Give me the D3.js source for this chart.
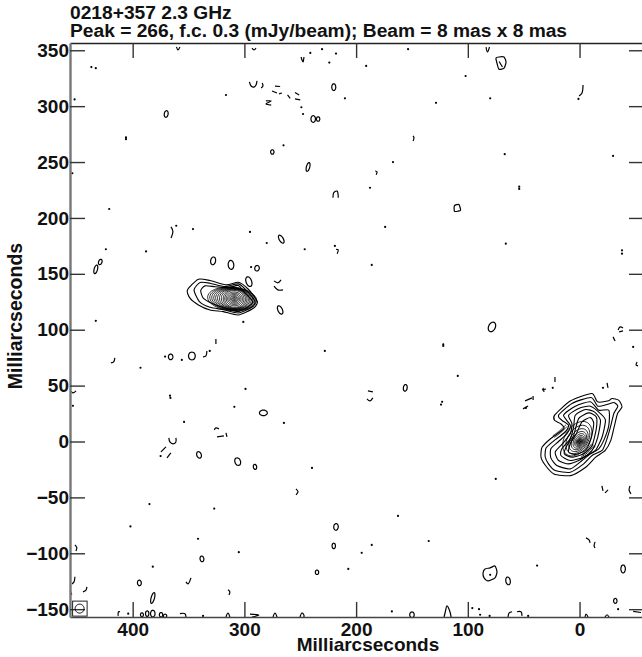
<!DOCTYPE html>
<html><head><meta charset="utf-8">
<script src="https://cdn.jsdelivr.net/npm/d3@7"></script>
<style>html,body{margin:0;padding:0;background:#fff}svg{display:block}text{font-family:"Liberation Sans",Arial,sans-serif;font-weight:bold;fill:#111}</style>
</head><body><svg id="c" width="642" height="657"></svg>
<script>
const xDomain=[456.1,-55.9], yDomain=[-157,356.5];
const xTicks=[400,300,200,100,0], yTicks=[350,300,250,200,150,100,50,0,-50,-100,-150];
const titleLines=["0218+357 2.3 GHz","Peak = 266, f.c. 0.3 (mJy/beam); Beam = 8 mas x 8 mas"];
const axisLabel="Milliarcseconds";

// isolated one-pixel noise peaks [mas, mas]
const specks=[[230.5,351],[218,347],[224,339],[191,336],[102,327],[210,307],[128.5,303],[80,307],[1,306.5],[67,257],[-30,255.5],[153.5,351],[249,299],[247.5,293],[265,265],[316.5,310],[452,306],[437,335],[433,334],[406,272],[406,270.5],[241,347.6],[454,240],[421,208],[361,193],[346,190],[295,187.5],[280,177.6],[246,172],[424,172],[388,170],[294,156],[433,108],[301,107],[331,81],[356,73],[371,76],[393,66],[299,47],[366.6,41],[366.2,39],[309,31],[453.5,32],[264.6,16.6],[354,17.5],[375,-13],[239.5,-23.6],[385,-56],[327,-60],[402,-76],[341.5,-87],[305,-99],[382,-112],[404,-154],[337,-156],[186,-92.5],[195,-99.6],[207,-114],[135,-89],[38,-111],[-34.5,-150],[96,-149],[90,-150],[168,-152],[46,-156],[167,250],[187.6,227],[54,228],[54,226],[174,192],[66,177],[-38,171],[-38,168],[219,175],[186,158],[122,87],[122,85.5],[228,81],[109,58.7],[123,35.5],[124,33],[-48,84.6],[75,-33.5],[162.5,-66.6],[-21,48],[24,48],[48,30],[80,-119.3],[89,-155],[80.5,-156]];

// small closed contours: centre x, centre y, half-width, half-height, tilt
const rings=[[370,293,1.7,3,10],[220,317,1.8,3,0],[275,259,1.5,2,0],[243,245.6,1.5,4,15],[238.4,288.5,2,3,0],[234,288.5,1.5,2,0],[267,181,1.8,4,-30],[328,161.6,2.2,3.5,10],[312,158,2.5,4,-5],[288.7,155,2,2.5,10],[429,160.6,1.5,2.5,20],[433,154,1.5,4,15],[347,76.5,3,3.5,0],[366,75.7,2,2.5,0],[283,25.6,3.5,2.5,0],[340.6,-12,2,3,-20],[306,-18,2.5,3.5,-20],[290.5,-22.7,1.5,2.2,-10],[338,-105,1.7,2.5,-10],[394,-126.5,1.7,2.5,-5],[382,-140,1.5,5,15],[235,-117,1.5,2,0],[382,-154,2,3,0],[150,-155,2,2.5,0],[64,-124.7,2,3.5,-10],[-39,-114,2,3.5,0],[218,-76.4,2,3,5],[220,-93.4,1.5,2.5,0],[78.4,102.5,3,4.5,25],[156,48,1.7,3,8],[296,143,2.5,4.5,-20],[268,117.7,2,4,-25],[-32,-142.6,1.5,2.2,0],[374.6,-155,1.5,2,0],[371,-156,1.5,1.5,0],[391.7,-155,1.3,1.8,0],[387,-154,1.5,2.5,0]];

// open fragments of contours cut by the noise
const arcs=[
[[295.5,321.7],[294,318],[291.5,317],[289.6,319],[288.7,322.6]],[[284,320.8],[283.4,318],[285,316.3]],[[272.6,318],[268,317.6]],[[275.3,313.6],[270.8,311.8]],[[269,311],[266.4,311.8]],[[261.4,310],[259,307]],[[254.7,312.3],[251,310]],[[254.7,306.5],[250,305.6]],[[280.7,304.7],[276,304.7],[280.7,302],[276,301]],
[[365.7,192],[364,188],[365.7,182]],[[220.7,218],[220,222.6],[217,224],[216,218]],[[183,242],[181.3,241.3],[182,238.7]],[[218,172],[216,171.4],[217,168]],[[273.5,143.7],[270,142],[267.2,144.6]],[[273.5,139],[270,135.6],[265.5,135.6]],[[416,74.8],[417,71.2],[419.5,70.3]],[[333.6,81],[334.4,76.6],[337,75.7]],[[325.5,91.8],[325.5,87.3]],[[455,45],[453.5,43.5],[450.7,45.3]],[[327,10.4],[325.5,12.2],[322.8,11.3]],[[324.5,4.1],[318.3,5]],[[316.5,7.7],[315.6,4.1]],[[367.6,3.2],[366.7,-0.4],[364,-2.1],[361.3,-0.4],[361.3,3.2]],[[374.7,-9.3],[370.2,-4.8]],[[369.3,-14.7],[365.8,-10.2]],[[253.8,-42.4],[252,-45],[253.8,-47.8]],[[451.7,-92.5],[450,-95],[450.8,-97.9]],[[451.7,-121],[452.5,-125.6],[454.3,-127.4]],[[441,-130],[441.8,-133],[444.5,-134.5]],[[456,-133.6],[454.5,-137]],[[352.3,-125.6],[350.5,-127.4],[347.8,-122]],[[314.7,-132.7],[313,-134.5],[313.8,-137.2]],
[[413,-156],[412.7,-152.3],[411.3,-152.3]],[[357.7,-154],[353.2,-154],[352.3,-157]],[[316.5,-157],[314.7,-153.4],[313,-157]],[[295,-154.4],[287,-155.3],[293.3,-157]],[[274.4,-157],[272.6,-153.4],[270.8,-157]],[[250.2,-157],[248.5,-153.4],[246.7,-155.3],[246.7,-157]],[[121.3,-157],[120.4,-153.4],[118.6,-147],[116,-152.3],[115,-157]],[[64,-157],[63,-153.4],[60.4,-152.3]],[[56,-152.3],[52.4,-152.3],[51.5,-156]],[[-4.9,-157],[-5.8,-154.3],[-7.6,-157]],[[-22.8,-157],[-24.6,-155],[-26.4,-157]],[[-48,-152],[-55,-153]],
[[-5.8,-86.2],[-8.5,-88],[-9.4,-90.7]],[[-13.9,-89.8],[-13,-93.4],[-13.9,-95.2]],[[-20,-39.7],[-21,-44.2]],[[-22.8,-46],[-25.5,-43.3]],[[-45.2,-39.7],[-44.3,-43.3],[-46,-46.9]],
[[48.8,36.3],[42.5,39]],[[41.6,40.8],[41.6,37.2]],[[50.6,29.2],[46.1,31.8]],[[33.6,46.2],[30,47]],[[32.7,48],[31.8,44.4]],[[22,57.8],[22,53.3]],[[-24.6,52.4],[-25.5,48]],[[-30,93.6],[-31.8,90]],[[-34.5,99.8],[-36.3,102.5],[-38.9,101.6]],[[-35.4,98],[-38.9,98.9]],[[-51.5,71.2],[-50.6,68.5],[-52.4,67.6]],[[189.4,45.3],[185,44.4]],[[190.3,38.1],[187.6,36.3],[185,39]],[[-3.1,318.9],[-2.2,311.8],[0.4,309.1]],[[149,273.4],[148.2,271.6],[149,268.9]],[[83.7,352.9],[82.4,348.5],[80.6,352.9]],[[360.8,353],[359.5,350.3],[357.7,353]],[[293.2,352],[291.4,350.3],[289.6,352]],[[249.3,344],[247.5,339.5],[246.7,344]],[[72,340],[69,335]]];

// larger irregular closed contours of isolated blobs
const blobs=[
[[86.4,-117.6],[84.6,-114],[80.1,-113.1],[75.7,-111.3],[73.9,-116.7],[75.7,-122],[81.9,-124.7],[85.5,-122]],
[[74.8,343],[72.1,344],[67.6,344],[65.8,339.5],[67.6,334],[72.1,333],[73.9,338.4]],
[[112,206],[112,211],[108,212],[106.5,207],[109,206]]];

// core component, irregular outer contours (mas)
const coreOuter=[
[[22,24],[8,36.4],[-11,43],[-16,35.5],[-26,36.4],[-29,38.5],[-35,37],[-38,31],[-34,25],[-31,13],[-28,1],[-23,-8],[-14.5,-14],[-5.5,-23],[8,-30.5],[23,-29],[30.5,-21.5],[34.5,-14],[33.5,-5],[26,2.5],[14,11.5],[17,16],[22.5,19]],
[[18.8,23.5],[6.8,34],[-10.3,39.4],[-16.3,31.6],[-25.3,33.4],[-30.7,34.9],[-34.3,31.6],[-30.7,25],[-27.7,13],[-24.1,1],[-20.2,-8],[-11.2,-12.5],[-3.7,-20],[8.3,-27.5],[21.8,-26],[27.8,-20],[30.8,-13.4],[29.9,-5.6],[23.3,.4],[12.8,8.5],[9.8,14.5],[15.8,19]],
[[14.3,23.5],[3.8,31.6],[-9.7,35.5],[-17.2,28],[-26.2,28],[-26.2,14.5],[-21.7,1],[-17.2,-6.5],[-9.7,-11],[-2.2,-17],[8.3,-24.5],[20.3,-21.5],[25.7,-14.6],[25.7,-6.5],[18.8,0],[11.3,7],[8.3,14.5]],
[[9.8,23.5],[.8,29.5],[-9.7,31.6],[-18.7,25],[-23.2,19],[-20.2,4],[-14.2,-8],[-6.7,-12.5],[.8,-17],[9.8,-20],[18.8,-17],[21.8,-9.5],[15.8,-2.6],[8.3,7],[6.8,16]],
[[3.8,23.5],[-5.2,28.6],[-13.3,26.5],[-18.7,19],[-16.3,4],[-11.2,-8],[-3.7,-14],[8.3,-17],[16.7,-12.5],[15.8,-6.5],[8.3,2.5],[5.3,13]],
[[.8,20.5],[-8.2,25.6],[-15,22],[-15,11.5],[-11.2,-3.5],[-3.7,-11],[6.8,-14],[13.7,-11],[11.3,-3.5],[5.3,5.5]],
[[-2.2,17.5],[-9.7,21.4],[-12.7,16],[-10.3,2.5],[-5.2,-8],[3.8,-11.6],[9.8,-9.5],[8.3,-2],[2.9,7]]];
// short bunched segments where the core contours crowd together
const coreBunch=[
[[-1,-15],[-6,-12.5],[-10,-9],[-14,-4]],[[-1.5,-13.6],[-5.4,-11.4],[-9.2,-8],[-13,-3.4]],[[-2,-12.2],[-5,-10.2],[-8.5,-7],[-12,-2.8]],[[-2.6,-11],[-5,-9],[-7.8,-6],[-10.8,-2]],
[[24,5],[18,9.5],[12,15]],[[22.6,3.6],[16.8,8],[11,13.6]],[[21,2],[15.4,6.4],[9.8,12]]];
// core, nested ellipses: centre x, centre y, half-width, half-height, tilt
const coreInner=[[2,2.5,11,17,33],[1.5,1.8,9,14,33],[1,1.2,7.3,11.3,33],[.6,.8,5.8,9,33],[.3,.5,4.6,7.2,33],[.1,.3,3.6,5.6,33],[0,.1,2.8,4.4,33],[0,0,2.2,3.4,33],[0,0,1.7,2.6,33],[0,0,1.3,2,33],[0,0,1,1.5,33],[0,0,.7,1,33],[0,0,.4,.6,33]];

// second component, irregular outer contours (mas)
const jetOuter=[
[[351,135.6],[341.2,145.2],[330.8,144],[315.9,140.1],[305.4,142.5],[296.5,136.2],[288.4,125.2],[292,119.2],[305.4,113.2],[318.9,116.2],[330.8,117.7],[341.2,122.2],[348.7,128.2]],
[[345.1,135.6],[339.7,142.2],[330.8,141.6],[317.4,138.6],[305.4,141],[298,135],[290.5,125.2],[293.5,120.1],[305.4,115],[318.9,118],[330.8,120.1],[340.3,125.2]],
[[339.1,135],[335.3,139.2],[326.3,138.5],[314.4,137.5],[305.4,139.6],[299.5,133],[292.6,125.2],[295.6,121.3],[305.4,116.2],[317.4,119.4],[329.3,123.7],[336.8,128.2]]];
const jetInner=[[311,127.6,22,10.6,5],[310.6,127.6,20.5,10.3,5],[310.3,127.6,19,10,5],[310,127.6,17.5,9.8,5],[309.8,127.6,16,9.5,5],[309.6,127.6,14.5,9.3,5],[309.4,127.6,13,9,5],[309.2,127.6,11.5,8.7,5],[309,127.6,10,8.3,5],[309,127.6,8.6,7.6,5],[309,127.6,7.3,6.2,5],[309,127.6,6,5,5],[309,127.6,4.8,3.9,5],[309,127.6,3.6,2.9,5],[309,127.6,2.6,2,5],[309,127.6,1.6,1.3,5],[309,127.6,.8,.6,5]];
const beam=[447.5,-149.5,4,4,0];

const W=642,H=657,M={l:70,r:642,t:43,b:617};
const x=d3.scaleLinear().domain(xDomain).range([M.l,M.r]);
const y=d3.scaleLinear().domain(yDomain).range([M.b,M.t]);
const svg=d3.select("#c");
const plot=svg.append("g");
const lineClosed=d3.line().x(d=>x(d[0])).y(d=>y(d[1])).curve(d3.curveCardinalClosed.tension(.35));
const lineOpen=d3.line().x(d=>x(d[0])).y(d=>y(d[1])).curve(d3.curveCatmullRom);
function ell([cx,cy,rx,ry,a]){
  const r=a*Math.PI/180;
  return d3.range(0,24).map(i=>{const t=i/24*2*Math.PI;
    const sx=rx*Math.cos(t)*Math.cos(r)-ry*Math.sin(t)*Math.sin(r);
    const sy=rx*Math.cos(t)*Math.sin(r)+ry*Math.sin(t)*Math.cos(r);
    return [cx-sx,cy-sy];});
}
const ink="#000";
const draw=(cls,data,gen,w)=>plot.selectAll("path."+cls).data(data).join("path").attr("class",cls)
  .attr("d",gen).attr("fill","none").attr("stroke",ink).attr("stroke-width",w);
draw("a",arcs,lineOpen,1.2);
draw("b",blobs,lineClosed,1.2);
draw("r",rings,d=>lineClosed(ell(d)),1.2);
draw("co",coreOuter,lineClosed,1.1);
draw("cb",coreBunch,lineOpen,.8);
draw("ci",coreInner,d=>lineClosed(ell(d)),.85);
draw("jo",jetOuter,lineClosed,1.1);
draw("ji",jetInner,d=>lineClosed(ell(d)),.8);
plot.selectAll("circle.s").data(specks).join("circle").attr("class","s")
  .attr("cx",d=>x(d[0])).attr("cy",d=>y(d[1])).attr("r",1.1).attr("fill",ink);

// axes
const tick=15,c="#333";
function style(g,lw,col){g.selectAll(".domain").attr("stroke",col).attr("stroke-width",lw);
  g.selectAll(".tick line").attr("stroke",c).attr("stroke-width",1.4);
  g.selectAll("text").style("font-size","19px").attr("fill","#111");}
const axB=svg.append("g").attr("transform",`translate(0,${M.b})`).call(d3.axisBottom(x).tickValues(xTicks).tickFormat(d3.format("d")).tickSize(-tick).tickSizeOuter(0).tickPadding(6));
style(axB,1.6,"#444");
const axT=svg.append("g").attr("transform",`translate(0,${M.t})`).call(d3.axisTop(x).tickValues(xTicks).tickFormat("").tickSize(-tick).tickSizeOuter(0));
style(axT,1.4,"#222");
const axL=svg.append("g").attr("transform",`translate(${M.l},0)`).call(d3.axisLeft(y).tickValues(yTicks).tickFormat(d3.format("d")).tickSize(-tick).tickSizeOuter(0).tickPadding(1));
style(axL,2.4,"#777");
const axR=svg.append("g").attr("transform",`translate(${M.r},0)`).call(d3.axisRight(y).tickValues(yTicks).tickFormat("").tickSize(-13).tickSizeOuter(0));
style(axR,0,"none");

// beam box
svg.append("rect").attr("x",x(beam[0])-7).attr("y",y(beam[1])-7.5).attr("width",14.5).attr("height",15).attr("fill","none").attr("stroke","#222").attr("stroke-width",1);
svg.append("path").attr("d",lineClosed(ell(beam))).attr("fill","none").attr("stroke",ink).attr("stroke-width",1);

// text
svg.selectAll("text.t").data(titleLines).join("text").attr("class","t").attr("x",70).attr("y",(d,i)=>19+i*18).style("font-size","19.2px").text(d=>d);
svg.append("text").attr("x",368).attr("y",651).attr("text-anchor","middle").style("font-size","19px").text(axisLabel);
svg.append("text").attr("transform","translate(22,316) rotate(-90)").attr("text-anchor","middle").style("font-size","19.5px").text(axisLabel);
</script></body></html>
